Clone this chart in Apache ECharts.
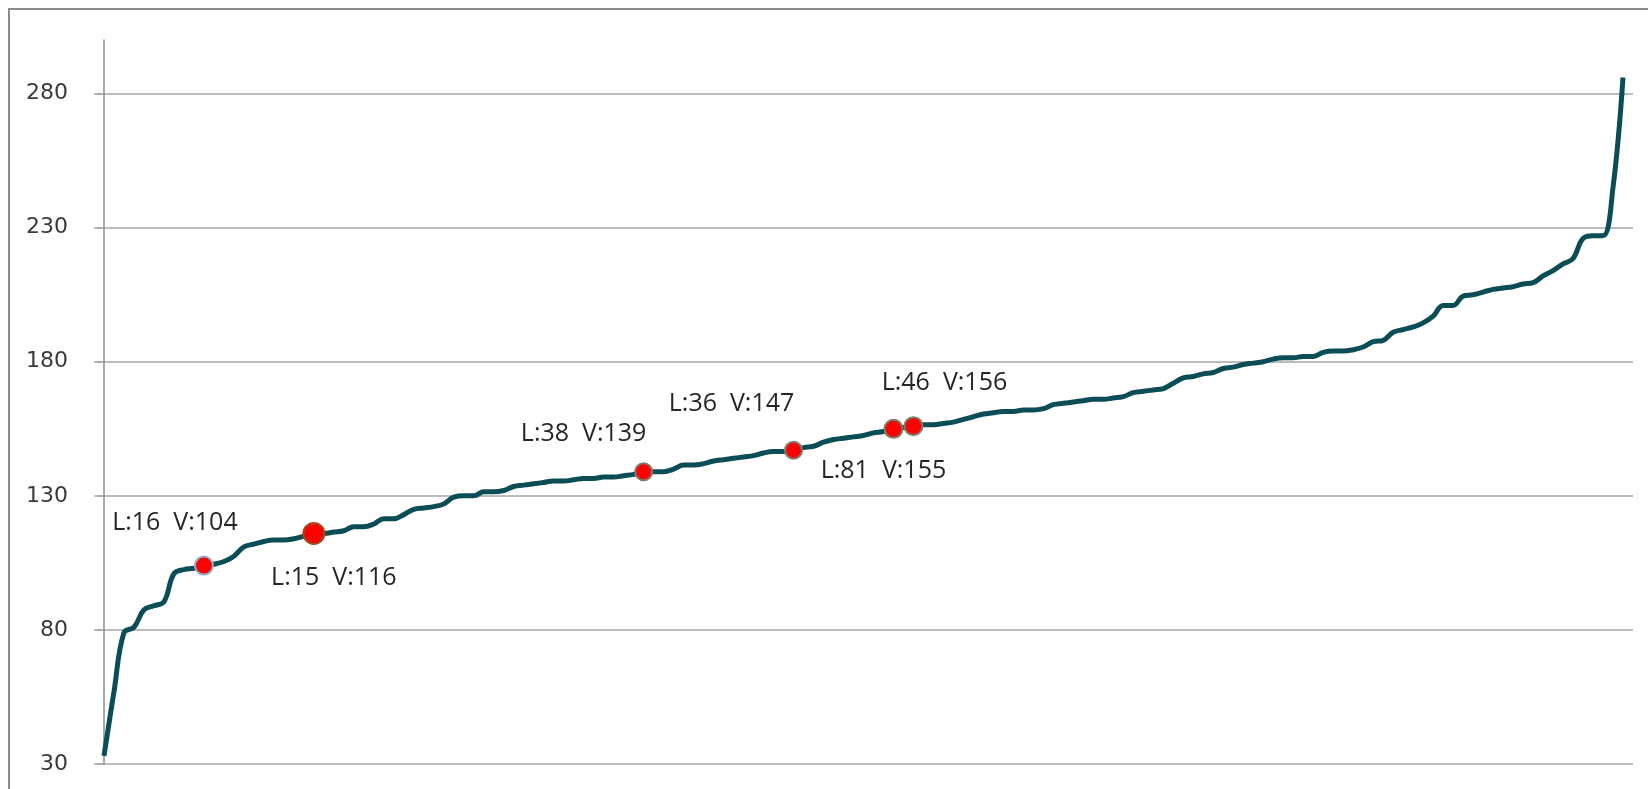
<!DOCTYPE html>
<html>
<head>
<meta charset="utf-8">
<script src="https://cdn.jsdelivr.net/npm/echarts@6/dist/echarts.min.js"></script>
<style>
html,body{margin:0;padding:0;background:#ffffff;}
#chart{width:1648px;height:789px;}
</style>
</head>
<body>
<div id="chart"></div>
<script>
// ---- data ----
const values = [
  33, 57, 79, 81, 87.5, 89, 90.5, 101, 102.5, 103,
  104, 104.5, 105.5, 107.5, 111, 112, 113, 113.5, 113.5, 114,
  115, 116, 116, 116.5, 117, 118.5, 118.5, 119.5, 121.5, 121.5,
  123, 125, 125.5, 126, 127, 129.5, 130, 130, 131.5, 131.5,
  132, 133.5, 134, 134.5, 135, 135.5, 135.5, 136, 136.5, 136.5,
  137, 137, 137.5, 138, 139, 139, 139, 140, 141.5, 141.5,
  142, 143, 143.5, 144, 144.5, 145, 146, 146.5, 146.5, 147,
  148, 148.5, 150, 151, 151.5, 152, 152.5, 153.5, 154, 155,
  155.5, 156, 156.5, 156.5, 157, 157.5, 158.5, 159.5, 160.5, 161,
  161.5, 161.5, 162, 162, 162.5, 164, 164.5, 165, 165.5, 166,
  166, 166.5, 167, 168.5, 169, 169.5, 170, 172, 174, 174.5,
  175.5, 176, 177.5, 178, 179, 179.5, 180, 181, 181.5, 181.5,
  182, 182, 183.5, 184, 184, 184.5, 185.5, 187.5, 188, 191,
  192, 193, 194.5, 197, 201, 201, 204.5, 205, 206, 207,
  207.5, 208, 209, 209.5, 212, 214, 216.5, 218.5, 226, 227,
  227, 245, 286
];
const yTicks = [30, 80, 130, 180, 230, 280];
const yMax = 300;

const markIndex = [10, 21, 54, 69, 79, 81];
const markValue = [104, 116, 139, 147, 155, 156];
const markL = [16, 15, 38, 36, 81, 46];

// ---- label placement / marker styling (not data) ----
const labelOffsets = [[-29, -43], [20, 44], [-60, -38], [-62, -46], [-10, 42], [31, -43]];
const markBorders = ['#8fb3cc', '#a24a18', '#7d7d6c', '#7d7d6c', '#7d7d6c', '#7d7d6c'];
const markSizes = [18, 21, 17, 17, 18, 18];

const lineData = values.map((v, i) => [i, v]);
const markData = markIndex.map((idx, k) => ({
  value: [idx, markValue[k]],
  L: markL[k],
  symbolSize: markSizes[k],
  itemStyle: { color: '#ff0000', borderColor: markBorders[k], borderWidth: 2, opacity: 1 },
  label: { offset: labelOffsets[k] }
}));

const chart = echarts.init(document.getElementById('chart'), null, { renderer: 'canvas' });
chart.setOption({
  backgroundColor: '#ffffff',
  animation: false,
  graphic: [{
    type: 'rect',
    shape: { x: 9, y: 9, width: 2000, height: 2000 },
    style: { fill: 'none', stroke: '#8c8c8c', lineWidth: 2 },
    silent: true,
    z: 100
  }],
  grid: { left: 94, right: 15, top: 40, bottom: 25 },
  xAxis: {
    type: 'value',
    min: -1,
    max: values.length,
    axisLine: { show: false },
    axisTick: { show: false },
    axisLabel: { show: false },
    splitLine: { show: false }
  },
  yAxis: {
    type: 'value',
    min: yTicks[0],
    max: yMax,
    interval: yTicks[1] - yTicks[0],
    axisLine: { show: true, lineStyle: { color: '#8c8c8c', width: 1.5 } },
    axisTick: { show: true, length: 7, inside: false, lineStyle: { color: '#a6a6a6', width: 1.5 } },
    axisLabel: {
      show: true,
      margin: 26,
      color: '#3a3a3a',
      fontFamily: 'DejaVu Sans',
      fontSize: 22,
      showMaxLabel: false
    },
    splitLine: {
      show: true,
      showMaxLine: false,
      lineStyle: { color: '#a6a6a6', width: 1.5 }
    }
  },
  series: [
    {
      type: 'line',
      data: lineData,
      smooth: 0.4,
      showSymbol: false,
      symbol: 'none',
      lineStyle: { color: '#0b4d55', width: 5 },
      z: 2
    },
    {
      type: 'scatter',
      data: markData,
      symbol: 'circle',
      z: 3,
      itemStyle: { opacity: 1 },
      label: {
        show: true,
        position: 'inside',
        color: '#262626',
        opacity: 1,
        fontFamily: 'Open Sans',
        fontSize: 25,
        formatter: p => 'L:' + p.data.L + '  V:' + p.data.value[1]
      }
    }
  ]
});
</script>
</body>
</html>
